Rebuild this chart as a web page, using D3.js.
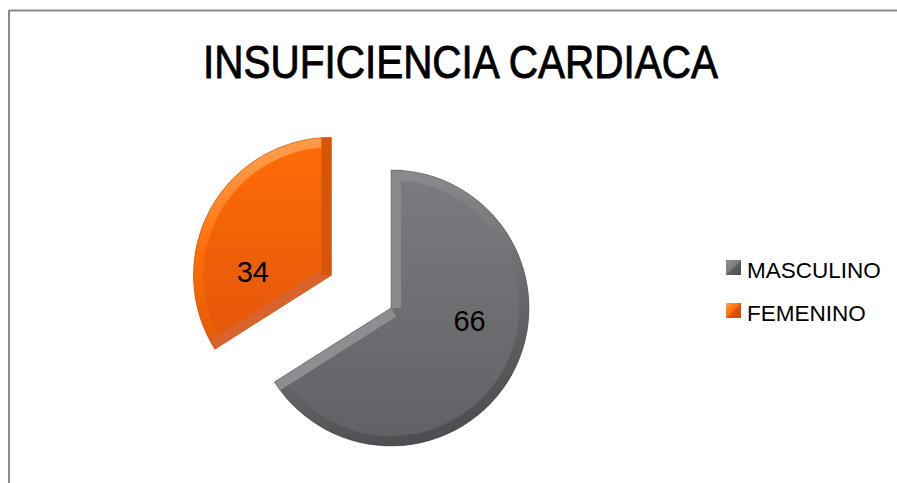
<!DOCTYPE html>
<html>
<head>
<meta charset="utf-8">
<script src="https://cdn.jsdelivr.net/npm/d3@7"></script>
<style>
  body { margin: 0; background: #fff; }
  svg { display: block; }
</style>
</head>
<body>
<div id="chart"></div>
<script>
// chart data
const categories = ["MASCULINO", "FEMENINO"];
const values = [66, 34];
const exploded = [false, true];
const titleText = "INSUFICIENCIA CARDIACA";

const width = 897, height = 483;
const radius = 138;
const bevel = 10;
const center = { x: 391, y: 308 };
const explodeDist = 68;
const labelTurn = -23 * Math.PI / 180; // labels sit a bit counter-clockwise of the slice middle

// colours per category
const palette = [
  { light: "#8e9094", top: "#7a7c80", bottom: "#5f6165", edge: "#4a4c50", under: "#5c5e62" },
  { light: "#ffa050", top: "#ff6c06", bottom: "#e2560a", edge: "#bf4806", under: "#d9632c" }
];

const svg = d3.select("#chart").append("svg")
  .attr("width", width)
  .attr("height", height);

const defs = svg.append("defs");

// chart area border (top + left only visible)
svg.append("line").attr("x1", 9).attr("y1", 10.5).attr("x2", width).attr("y2", 10.5)
  .attr("stroke", "#8a8a8a").attr("stroke-width", 2);
svg.append("line").attr("x1", 9).attr("y1", 10).attr("x2", 9).attr("y2", height)
  .attr("stroke", "#8a8a8a").attr("stroke-width", 2);

// title
svg.append("text")
  .attr("x", 460.5)
  .attr("y", 78)
  .attr("text-anchor", "middle")
  .attr("font-family", "'Liberation Sans Narrow', 'Liberation Sans', Arial, sans-serif")
  .attr("font-size", 47)
  .attr("textLength", 515)
  .attr("lengthAdjust", "spacingAndGlyphs")
  .attr("fill", "#000")
  .attr("stroke", "#000")
  .attr("stroke-width", 0.9)
  .text(titleText);

const pie = d3.pie().sort(null).value(d => d)(values);
const arc = d3.arc().innerRadius(0).outerRadius(radius);

// gradients
palette.forEach((c, i) => {
  const g = defs.append("linearGradient").attr("id", "fill" + i)
    .attr("x1", 0).attr("y1", 0).attr("x2", 0).attr("y2", 1);
  g.append("stop").attr("offset", "0%").attr("stop-color", c.top);
  g.append("stop").attr("offset", "100%").attr("stop-color", c.bottom);

  // rim along the arc: highlight on top, shadow towards the bottom
  const b = defs.append("linearGradient").attr("id", "rim" + i)
    .attr("gradientUnits", "userSpaceOnUse")
    .attr("x1", -radius * 0.3).attr("y1", -radius).attr("x2", radius * 0.3).attr("y2", radius);
  b.append("stop").attr("offset", "0%").attr("stop-color", c.light);
  b.append("stop").attr("offset", "30%").attr("stop-color", c.top);
  b.append("stop").attr("offset", "100%").attr("stop-color", c.edge);

  const lg = defs.append("linearGradient").attr("id", "leg" + i)
    .attr("x1", 0).attr("y1", 0).attr("x2", 1).attr("y2", 1);
  lg.append("stop").attr("offset", "0%").attr("stop-color", c.light);
  lg.append("stop").attr("offset", "50%").attr("stop-color", c.top);
  lg.append("stop").attr("offset", "50%").attr("stop-color", c.bottom);
  lg.append("stop").attr("offset", "100%").attr("stop-color", c.edge);
});

// shade for a straight edge: light comes from the upper left,
// edges facing straight down get a muted tone instead of the darkest one
function edgeShade(c, nx, ny) {
  const k = (-nx - ny) / Math.SQRT2;
  if (k >= 0) return d3.interpolateRgb(c.top, c.light)(k * 0.9);
  if (k < -0.9) return c.under;
  return d3.interpolateRgb(c.top, c.edge)(-k * 0.9);
}

const slices = svg.append("g");

pie.forEach((p, i) => {
  const c = palette[i];
  const mid = (p.startAngle + p.endAngle) / 2;
  const off = exploded[i] ? explodeDist : 0;
  const cx = center.x + Math.sin(mid) * off;
  const cy = center.y - Math.cos(mid) * off;

  const g = slices.append("g").attr("transform", "translate(" + cx + "," + cy + ")");

  defs.append("clipPath").attr("id", "clip" + i)
    .append("path").attr("d", arc(p));

  g.append("path").attr("d", arc(p)).attr("fill", "url(#fill" + i + ")");

  const inner = g.append("g").attr("clip-path", "url(#clip" + i + ")");

  // rim along the outer arc
  inner.append("path")
    .attr("d", d3.arc().innerRadius(radius - bevel).outerRadius(radius + 2)(p))
    .attr("fill", "url(#rim" + i + ")");

  // rims along the two straight edges
  [[p.startAngle, -1], [p.endAngle, 1]].forEach(([a, side]) => {
    const dx = Math.sin(a), dy = -Math.cos(a);
    // outward normal of the edge
    const nx = -dy * side, ny = dx * side;
    inner.append("line")
      .attr("x1", 0).attr("y1", 0).attr("x2", dx * radius).attr("y2", dy * radius)
      .attr("stroke", edgeShade(c, nx, ny))
      .attr("stroke-width", bevel * 2);
  });

  // thin outline
  g.append("path").attr("d", arc(p)).attr("fill", "none")
    .attr("stroke", c.edge).attr("stroke-width", 0.8).attr("stroke-opacity", 0.6);

  // value label
  const la = mid + labelTurn;
  g.append("text")
    .attr("x", Math.sin(la) * 79)
    .attr("y", -Math.cos(la) * 79 + 5)
    .attr("text-anchor", "middle")
    .attr("dominant-baseline", "central")
    .attr("font-family", "'Liberation Sans', Arial, sans-serif")
    .attr("font-size", 29)
    .attr("fill", "#000")
    .text(values[i]);
});

// legend
const legendY = d3.scaleBand().domain(categories).range([248, 334]);
const legend = svg.append("g");
categories.forEach((name, i) => {
  const y = legendY(name) + legendY.bandwidth() / 2;
  legend.append("rect")
    .attr("x", 726).attr("y", y - 9.5)
    .attr("width", 15).attr("height", 15)
    .attr("fill", "url(#leg" + i + ")");
  legend.append("text")
    .attr("x", 747).attr("y", y + 8)
    .attr("font-family", "'Liberation Sans', Arial, sans-serif")
    .attr("font-size", 22.5)
    .attr("fill", "#000")
    .text(name);
});
</script>
</body>
</html>
